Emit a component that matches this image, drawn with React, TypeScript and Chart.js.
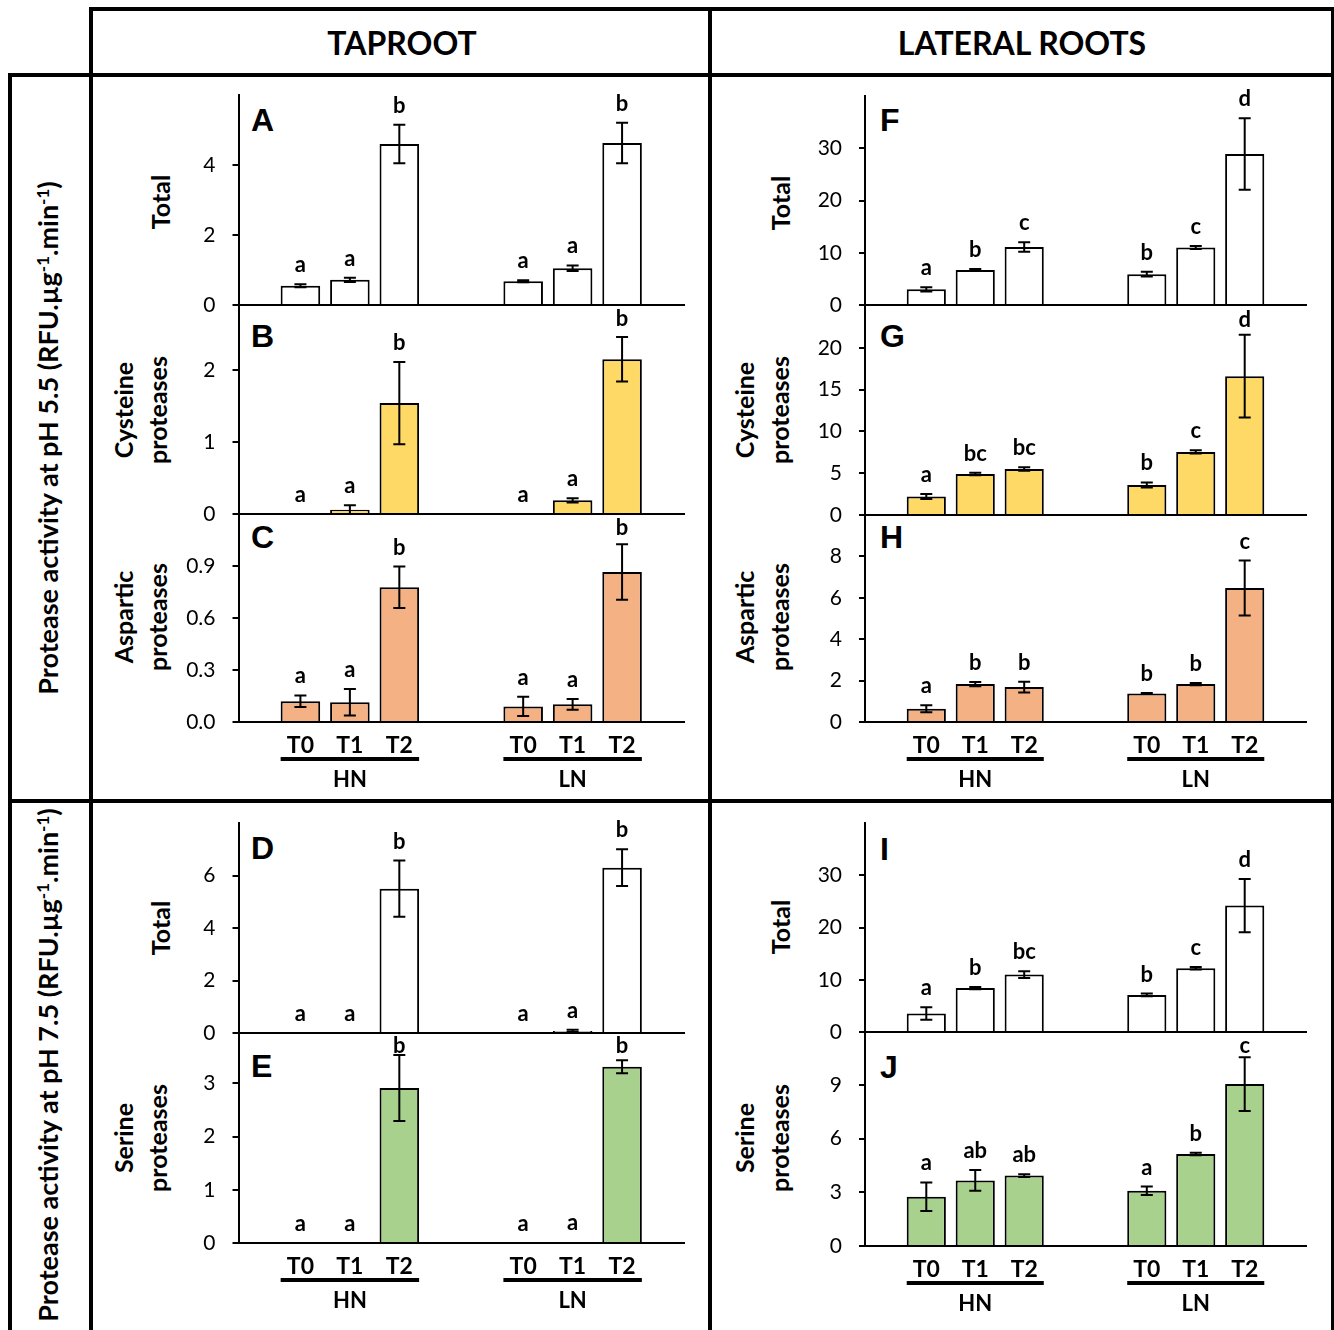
import React, { useEffect, useRef } from 'react';
import { Chart, registerables } from 'chart.js';

Chart.register(...registerables);

// ---------- data ----------
const groups = ['HN', 'LN'];
const times = ['T0', 'T1', 'T2'];

// every series is ordered: HN T0, HN T1, HN T2, LN T0, LN T1, LN T2
const meanA = [0.55, 0.72, 4.6, 0.68, 1.05, 4.63];
const errA = [0.04, 0.06, 0.55, 0.03, 0.08, 0.58];
const sigA = ['a', 'a', 'b', 'a', 'a', 'b'];

const meanB = [0, 0.06, 1.54, 0, 0.19, 2.15];
const errB = [0, 0.06, 0.57, 0, 0.03, 0.31];
const sigB = ['a', 'a', 'b', 'a', 'a', 'b'];

const meanC = [0.12, 0.114, 0.777, 0.09, 0.102, 0.866];
const errC = [0.033, 0.077, 0.12, 0.055, 0.031, 0.16];
const sigC = ['a', 'a', 'b', 'a', 'a', 'b'];

const meanD = [0, 0, 5.5, 0, 0.08, 6.3];
const errD = [0, 0, 1.07, 0, 0.04, 0.7];
const sigD = ['a', 'a', 'b', 'a', 'a', 'b'];

const meanE = [0, 0, 2.91, 0, 0.015, 3.31];
const errE = [0, 0, 0.62, 0, 0, 0.12];
const sigE = ['a', 'a', 'b', 'a', 'a', 'b'];

const meanF = [3.0, 6.7, 11.1, 5.9, 11.0, 28.9];
const errF = [0.4, 0.2, 0.9, 0.45, 0.3, 6.85];
const sigF = ['a', 'b', 'c', 'b', 'c', 'd'];

const meanG = [2.2, 4.9, 5.5, 3.6, 7.55, 16.6];
const errG = [0.3, 0.15, 0.2, 0.3, 0.2, 4.95];
const sigG = ['a', 'bc', 'bc', 'b', 'c', 'd'];

const meanH = [0.64, 1.83, 1.69, 1.38, 1.83, 6.47];
const errH = [0.17, 0.1, 0.26, 0.02, 0.05, 1.33];
const sigH = ['a', 'b', 'b', 'b', 'b', 'c'];

const meanI = [3.55, 8.4, 11.0, 7.1, 12.2, 24.2];
const errI = [1.2, 0.2, 0.65, 0.25, 0.25, 5.1];
const sigI = ['a', 'b', 'bc', 'b', 'c', 'd'];

const meanJ = [2.75, 3.66, 3.93, 3.08, 5.14, 9.04];
const errJ = [0.8, 0.58, 0.08, 0.24, 0.07, 1.5];
const sigJ = ['a', 'ab', 'ab', 'a', 'b', 'c'];

// axis ranges (panels A..J)
const panelIds = ['A', 'B', 'C', 'D', 'E', 'F', 'G', 'H', 'I', 'J'];
const axisMax = [6, 3, 1.2, 8, 4, 40, 25, 10, 40, 12];
const axisStep = [2, 1, 0.3, 2, 1, 10, 5, 2, 10, 3];
const axisDecimals = [0, 0, 1, 0, 0, 0, 0, 0, 0, 0];

// ---------- styles ----------
const WHITE = '#FFFFFF';
const YELLOW = '#FFD966';
const ORANGE = '#F4B183';
const GREEN = '#A9D18E';
const FONT = 'Lato, "Open Sans", sans-serif';

type PanelProps = {
  id: string;
  mean: number[];
  err: number[];
  sig: string[];
  color: string;
  col: 0 | 1;
  plotTop: number;
  zeroY: number;
  showX: boolean;
  sigFloor: number; // lowest allowed page y for letter baselines (keeps them below the panel above)
};

const colGeom = [
  { left: 180, width: 510, yAxisW: 58.5, padRight: 6 },
  { left: 805, width: 506, yAxisW: 60, padRight: 5 },
];

function Panel(p: PanelProps) {
  const ref = useRef<HTMLCanvasElement>(null);
  const pi = panelIds.indexOf(p.id);
  const yMax = axisMax[pi];
  const yStep = axisStep[pi];
  const dec = axisDecimals[pi];
  const g = colGeom[p.col];
  const padTop = 40;
  const padBottom = 78;
  const top = p.plotTop - padTop;
  const height = p.zeroY - p.plotTop + padTop + padBottom;

  useEffect(() => {
    const datasets = times.map((t, ti) => ({
      label: t,
      data: groups.map((_, gi) => p.mean[gi * 3 + ti]),
      backgroundColor: p.color,
      borderColor: '#000',
      borderWidth: 2,
      categoryPercentage: 0.666,
      barPercentage: 0.8,
    }));

    const floorCanvas = p.sigFloor - top;

    const extras = {
      id: 'extras',
      afterDatasetsDraw(chart: any) {
        const ctx = chart.ctx as CanvasRenderingContext2D;
        const y = chart.scales.y;
        ctx.save();
        ctx.fillStyle = '#000';
        ctx.strokeStyle = '#000';
        ctx.lineWidth = 2;
        ctx.textAlign = 'center';
        ctx.textBaseline = 'alphabetic';
        times.forEach((_, ti) => {
          const meta = chart.getDatasetMeta(ti);
          meta.data.forEach((bar: any, gi: number) => {
            const idx = gi * 3 + ti;
            const m = p.mean[idx];
            const e = p.err[idx];
            const x = bar.x;
            const yt = y.getPixelForValue(m + e);
            if (e > 0) {
              const yb = y.getPixelForValue(Math.max(0, m - e));
              ctx.beginPath();
              ctx.moveTo(x, yt);
              ctx.lineTo(x, yb);
              ctx.moveTo(x - 6, yt);
              ctx.lineTo(x + 6, yt);
              ctx.moveTo(x - 6, yb);
              ctx.lineTo(x + 6, yb);
              ctx.stroke();
            }
            ctx.font = `bold 22px ${FONT}`;
            ctx.fillText(p.sig[idx], x, Math.max(yt - 12, floorCanvas));
          });
        });
        if (p.showX) {
          const zero = y.getPixelForValue(0);
          groups.forEach((gname, gi) => {
            ctx.font = `bold 23px ${FONT}`;
            times.forEach((t, ti) => {
              const b: any = chart.getDatasetMeta(ti).data[gi];
              ctx.fillText(t, b.x, zero + 31);
            });
            const first: any = chart.getDatasetMeta(0).data[gi];
            const last: any = chart.getDatasetMeta(2).data[gi];
            const x1 = first.x - first.width / 2;
            const x2 = last.x + last.width / 2;
            ctx.fillRect(x1, zero + 35, x2 - x1, 4);
            ctx.font = `bold 22px ${FONT}`;
            ctx.fillText(gname, chart.scales.x.getPixelForValue(gi), zero + 65);
          });
        }
        ctx.restore();
      },
    };

    const chart = new Chart(ref.current as HTMLCanvasElement, {
      type: 'bar',
      data: { labels: groups, datasets },
      options: {
        responsive: false,
        animation: false,
        devicePixelRatio: 1,
        layout: { padding: { top: padTop, bottom: padBottom, left: 0, right: g.padRight } },
        plugins: { legend: { display: false }, tooltip: { enabled: false } },
        scales: {
          x: {
            type: 'category',
            grid: { display: false },
            border: { display: true, color: '#000', width: 2 },
            ticks: { display: false },
            afterFit: (s: any) => { s.height = 0; },
          },
          y: {
            min: 0,
            max: yMax,
            ticks: {
              stepSize: yStep,
              color: '#000',
              padding: 17,
              font: { family: FONT, size: 21 },
              callback: (v: any) => Number(v).toFixed(dec),
            },
            grid: { drawOnChartArea: false, drawTicks: true, tickLength: 6, color: '#000', lineWidth: 2 },
            border: { display: true, color: '#000', width: 2 },
            afterBuildTicks: (s: any) => { s.ticks = s.ticks.filter((t: any) => t.value < yMax - 1e-9); },
            afterFit: (s: any) => { s.width = g.yAxisW; },
          },
        },
      } as any,
      plugins: [extras],
    });
    return () => chart.destroy();
  }, []);

  return (
    <canvas
      ref={ref}
      width={g.width}
      height={height}
      style={{ position: 'absolute', left: g.left, top, width: g.width, height }}
    />
  );
}

function VText({ x, y, children, size = 25 }: { x: number; y: number; children: any; size?: number }) {
  return (
    <text
      transform={`translate(${x},${y}) rotate(-90)`}
      textAnchor="middle"
      fontFamily={FONT}
      fontWeight="bold"
      fontSize={size}
      fill="#000"
    >
      {children}
    </text>
  );
}

function MainLabel({ x, y, ph }: { x: number; y: number; ph: string }) {
  return (
    <VText x={x} y={y} size={27}>
      {`Protease activity at pH ${ph} (RFU.µg`}
      <tspan dy={-9} fontSize={17}>-1</tspan>
      <tspan dy={9}>.min</tspan>
      <tspan dy={-9} fontSize={17}>-1</tspan>
      <tspan dy={9}>)</tspan>
    </VText>
  );
}

function PanelLetter({ x, y, t }: { x: number; y: number; t: string }) {
  return (
    <text x={x} y={y} fontFamily='"Liberation Sans", Arial, sans-serif' fontWeight="bold" fontSize={32} fill="#000">
      {t}
    </text>
  );
}

export default function App() {
  const panels: PanelProps[] = [
    { id: 'A', mean: meanA, err: errA, sig: sigA, color: WHITE, col: 0, plotTop: 95, zeroY: 305, showX: false, sigFloor: 0 },
    { id: 'B', mean: meanB, err: errB, sig: sigB, color: YELLOW, col: 0, plotTop: 298, zeroY: 514, showX: false, sigFloor: 326 },
    { id: 'C', mean: meanC, err: errC, sig: sigC, color: ORANGE, col: 0, plotTop: 514, zeroY: 722, showX: true, sigFloor: 535 },
    { id: 'D', mean: meanD, err: errD, sig: sigD, color: WHITE, col: 0, plotTop: 823, zeroY: 1033, showX: false, sigFloor: 0 },
    { id: 'E', mean: meanE, err: errE, sig: sigE, color: GREEN, col: 0, plotTop: 1030, zeroY: 1243, showX: true, sigFloor: 1053 },
    { id: 'F', mean: meanF, err: errF, sig: sigF, color: WHITE, col: 1, plotTop: 96, zeroY: 305, showX: false, sigFloor: 0 },
    { id: 'G', mean: meanG, err: errG, sig: sigG, color: YELLOW, col: 1, plotTop: 306, zeroY: 515, showX: false, sigFloor: 327 },
    { id: 'H', mean: meanH, err: errH, sig: sigH, color: ORANGE, col: 1, plotTop: 515, zeroY: 722, showX: true, sigFloor: 536 },
    { id: 'I', mean: meanI, err: errI, sig: sigI, color: WHITE, col: 1, plotTop: 823, zeroY: 1032, showX: false, sigFloor: 0 },
    { id: 'J', mean: meanJ, err: errJ, sig: sigJ, color: GREEN, col: 1, plotTop: 1031, zeroY: 1246, showX: true, sigFloor: 1053 },
  ];

  return (
    <div style={{ position: 'absolute', left: 0, top: 0, width: 1334, height: 1330, background: '#fff', overflow: 'hidden' }}>
      <svg width={1334} height={1330} style={{ position: 'absolute', left: 0, top: 0 }}>
        {/* table frame */}
        <rect x={89} y={7} width={1245} height={4} fill="#000" />
        <rect x={8} y={73} width={1326} height={4} fill="#000" />
        <rect x={8} y={73} width={4} height={1257} fill="#000" />
        <rect x={89} y={7} width={4} height={1323} fill="#000" />
        <rect x={708} y={7} width={4} height={1323} fill="#000" />
        <rect x={1331} y={7} width={3} height={1323} fill="#000" />
        <rect x={8} y={799} width={1326} height={4} fill="#000" />

        {/* column headers */}
        <text x={402} y={55} textAnchor="middle" fontFamily={FONT} fontWeight="bold" fontSize={32}>TAPROOT</text>
        <text x={1022} y={55} textAnchor="middle" fontFamily={FONT} fontWeight="bold" fontSize={32}>LATERAL ROOTS</text>

        {/* row headers */}
        <MainLabel x={58} y={438} ph="5.5" />
        <MainLabel x={58} y={1065} ph="7.5" />

        {/* panel y titles: taproot */}
        <VText x={170} y={202}>Total</VText>
        <VText x={133} y={410}>Cysteine</VText>
        <VText x={167} y={410}>proteases</VText>
        <VText x={133} y={617}>Aspartic</VText>
        <VText x={167} y={617}>proteases</VText>
        <VText x={170} y={928}>Total</VText>
        <VText x={133} y={1138}>Serine</VText>
        <VText x={167} y={1138}>proteases</VText>

        {/* panel y titles: lateral roots */}
        <VText x={790} y={203}>Total</VText>
        <VText x={754} y={410}>Cysteine</VText>
        <VText x={789} y={410}>proteases</VText>
        <VText x={754} y={617}>Aspartic</VText>
        <VText x={789} y={617}>proteases</VText>
        <VText x={790} y={927}>Total</VText>
        <VText x={754} y={1138}>Serine</VText>
        <VText x={789} y={1138}>proteases</VText>

        {/* panel letters */}
        <PanelLetter x={251} y={131} t="A" />
        <PanelLetter x={251} y={347} t="B" />
        <PanelLetter x={251} y={548} t="C" />
        <PanelLetter x={251} y={859} t="D" />
        <PanelLetter x={251} y={1077} t="E" />
        <PanelLetter x={880} y={131} t="F" />
        <PanelLetter x={880} y={347} t="G" />
        <PanelLetter x={880} y={548} t="H" />
        <PanelLetter x={880} y={860} t="I" />
        <PanelLetter x={880} y={1078} t="J" />
      </svg>
      {panels.map((p) => (
        <Panel key={p.id} {...p} />
      ))}
    </div>
  );
}
